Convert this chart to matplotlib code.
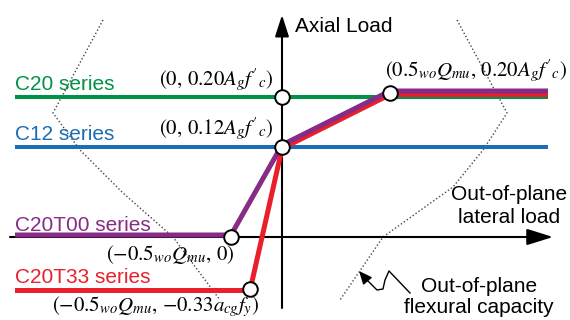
import matplotlib
matplotlib.use('Agg')
import matplotlib.pyplot as plt
from matplotlib.transforms import offset_copy

plt.rcParams['mathtext.fontset'] = 'stix'
plt.rcParams['font.family'] = ['Liberation Sans', 'DejaVu Sans']

# schematic diagram units (origin = crossing of the two axes)
x_start, x_end = -2.67, 2.66
c20_level = 1.40
c12_level = 0.90

t00_x = [x_start, -0.51, 0.0, 1.08, x_end]
t00_y = [0.0, 0.0, c12_level, 1.44, 1.44]
t33_x = [x_start, -0.32, 0.0, 1.08, x_end]
t33_y = [-0.52, -0.52, c12_level, 1.44, 1.44]

# key points marked by open circles
pts_x = [0.0, 0.0, 1.08, -0.51, -0.32]
pts_y = [c20_level, c12_level, 1.44, 0.0, -0.52]

# out-of-plane flexural capacity (dotted)
cap_left_x = [-1.79, -2.29, -2.02, -1.59, -1.09, -0.62]
cap_left_y = [2.17, 1.24, 0.87, 0.44, 0.0, -0.63]
cap_right_x = [1.75, 2.25, 2.01, 1.71, 1.01, 0.58]
cap_right_y = [2.17, 1.24, 0.87, 0.50, 0.0, -0.63]

# squiggle pointer to the capacity curve
sq_x = [1.28, 1.07, 1.03, 1.01, 0.95, 0.83]
sq_y = [-0.56, -0.34, -0.43, -0.52, -0.53, -0.41]
sq_tip = (0.77, -0.34)

green = '#009247'
blue = '#1c6db4'
purple = '#862b86'
red = '#e9202b'

fig = plt.figure(figsize=(5.7, 3.2), dpi=100)
ax = fig.add_axes([0, 0, 1, 1])
ax.set_xlim(-2.82, 2.88)
ax.set_ylim(-0.83, 2.37)
ax.axis('off')

# dotted capacity curves
ax.plot(cap_left_x, cap_left_y, color='#444444', lw=1.0, ls=(0, (1, 1.6)), zorder=1)
ax.plot(cap_right_x, cap_right_y, color='#444444', lw=1.0, ls=(0, (1, 1.6)), zorder=1)

# axes arrows
ax.annotate('', xy=(2.71, 0), xytext=(-2.72, 0),
            arrowprops=dict(arrowstyle='-|>,head_length=1.6,head_width=0.5',
                            mutation_scale=10, lw=1.5, color='black',
                            shrinkA=0, shrinkB=0), zorder=2)
ax.annotate('', xy=(0, 2.22), xytext=(0, -0.71),
            arrowprops=dict(arrowstyle='-|>,head_length=1.3,head_width=0.42',
                            mutation_scale=10, lw=1.5, color='black',
                            shrinkA=0, shrinkB=0), zorder=2)

# series lines
ax.plot([x_start, x_end], [c20_level, c20_level], color=green, lw=2.9, zorder=3,
        solid_capstyle='butt')
ax.plot([x_start, x_end], [c12_level, c12_level], color=blue, lw=2.9, zorder=3,
        solid_capstyle='butt')
tr_red = offset_copy(ax.transData, fig=fig, x=0, y=-1.5, units='dots')
tr_pur = offset_copy(ax.transData, fig=fig, x=0, y=2.0, units='dots')
ax.plot(t33_x, t33_y, color=red, lw=3.6, zorder=4, transform=tr_red,
        solid_capstyle='butt', solid_joinstyle='miter')
ax.plot(t00_x, t00_y, color=purple, lw=3.6, zorder=5, transform=tr_pur,
        solid_capstyle='butt', solid_joinstyle='miter')

ax.plot(pts_x, pts_y, 'o', ms=10.5, mfc='white', mec='black', mew=1.4, zorder=6, ls='none')

# squiggle pointer
ax.plot(sq_x, sq_y, color='black', lw=1.0, zorder=3)
ax.annotate('', xy=sq_tip, xytext=(sq_x[-1], sq_y[-1]),
            arrowprops=dict(arrowstyle='-|>,head_length=0.8,head_width=0.35',
                            mutation_scale=10, lw=1.0, color='black',
                            shrinkA=0, shrinkB=0))

# labels
fs = 15
ax.text(0.13, 2.10, 'Axial Load', fontsize=fs, ha='left', va='center')
ax.text(x_start, 1.47, 'C20 series', color=green, fontsize=fs, va='baseline')
ax.text(x_start, 0.97, 'C12 series', color=blue, fontsize=fs, va='baseline')
ax.text(x_start, 0.06, 'C20T00 series', color=purple, fontsize=fs, va='baseline')
ax.text(x_start, -0.46, 'C20T33 series', color=red, fontsize=fs, va='baseline')

ax.text(2.27, 0.37, 'Out-of-plane', fontsize=fs, ha='center', va='baseline')
ax.text(2.27, 0.14, 'lateral load', fontsize=fs, ha='center', va='baseline')
ax.text(1.97, -0.55, 'Out-of-plane', fontsize=fs, ha='center', va='baseline')
ax.text(1.97, -0.76, 'flexural capacity', fontsize=fs, ha='center', va='baseline')

mfs = 15
ax.text(-0.09, 1.51, r"$(0,\,0.20A_g f'_c)$", fontsize=mfs, ha='right', va='baseline')
ax.text(-0.09, 1.02, r"$(0,\,0.12A_g f'_c)$", fontsize=mfs, ha='right', va='baseline')
ax.text(1.03, 1.60, r"$(0.5{}_{wo}Q_{mu},\,0.20A_g f'_c)$", fontsize=mfs,
        ha='left', va='baseline')
ax.text(-1.76, -0.23, r"$(-0.5{}_{wo}Q_{mu},\,0)$", fontsize=mfs, ha='left', va='baseline')
ax.text(-2.30, -0.74, r"$(-0.5{}_{wo}Q_{mu},\,{-}0.33a_{cg}f_y)$", fontsize=mfs,
        ha='left', va='baseline')

fig.savefig('out.png', dpi=100)
